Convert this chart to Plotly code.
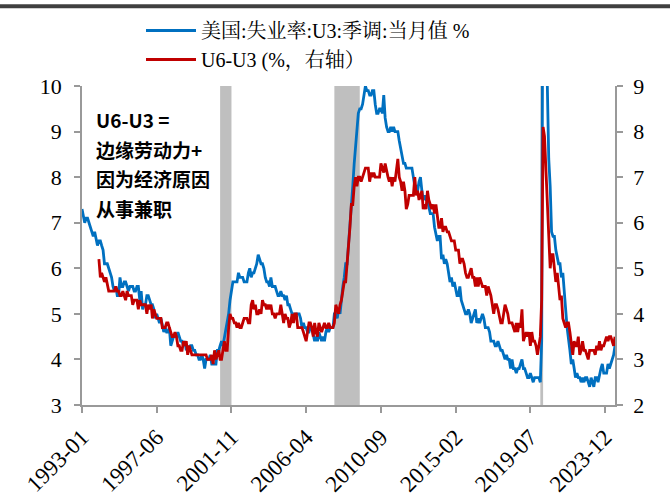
import pandas as pd
import plotly.graph_objects as go

# U3 unemployment rate, monthly, 1993-01 .. 2024-07 (left axis)
u3 = [
    7.3, 7.1, 7.0, 7.1, 7.1, 7.0, 6.9, 6.8, 6.7, 6.8, 6.6, 6.5,
    6.6, 6.6, 6.5, 6.4, 6.1, 6.1, 6.1, 6.0, 5.9, 5.8, 5.6, 5.5,
    5.6, 5.4, 5.4, 5.8, 5.6, 5.6, 5.7, 5.7, 5.6, 5.5, 5.6, 5.6,
    5.6, 5.5, 5.5, 5.6, 5.6, 5.3, 5.5, 5.1, 5.2, 5.2, 5.4, 5.4,
    5.3, 5.2, 5.2, 5.1, 4.9, 5.0, 4.9, 4.8, 4.9, 4.7, 4.6, 4.7,
    4.6, 4.6, 4.7, 4.3, 4.4, 4.5, 4.5, 4.5, 4.6, 4.5, 4.4, 4.4,
    4.3, 4.4, 4.2, 4.3, 4.2, 4.3, 4.3, 4.2, 4.2, 4.1, 4.1, 4.0,
    4.0, 4.1, 4.0, 3.8, 4.0, 4.0, 4.0, 4.1, 3.9, 3.9, 3.9, 3.9,
    4.2, 4.2, 4.3, 4.4, 4.3, 4.5, 4.6, 4.9, 5.0, 5.3, 5.5, 5.7,
    5.7, 5.7, 5.7, 5.9, 5.8, 5.8, 5.8, 5.7, 5.7, 5.7, 5.9, 6.0,
    5.8, 5.9, 5.9, 6.0, 6.1, 6.3, 6.2, 6.1, 6.1, 6.0, 5.8, 5.7,
    5.7, 5.6, 5.8, 5.6, 5.6, 5.6, 5.5, 5.4, 5.4, 5.5, 5.4, 5.4,
    5.3, 5.4, 5.2, 5.2, 5.1, 5.0, 5.0, 4.9, 5.0, 5.0, 5.0, 4.9,
    4.7, 4.8, 4.7, 4.7, 4.6, 4.6, 4.7, 4.7, 4.5, 4.4, 4.5, 4.4,
    4.6, 4.5, 4.4, 4.5, 4.4, 4.6, 4.7, 4.6, 4.7, 4.7, 4.7, 5.0,
    5.0, 4.9, 5.1, 5.0, 5.4, 5.6, 5.8, 6.1, 6.1, 6.5, 6.8, 7.3,
    7.8, 8.3, 8.7, 9.0, 9.4, 9.5, 9.5, 9.6, 9.8, 10.0, 9.9, 9.9,
    9.8, 9.8, 9.9, 9.9, 9.6, 9.4, 9.4, 9.5, 9.5, 9.4, 9.8, 9.3,
    9.1, 9.0, 9.0, 9.1, 9.0, 9.1, 9.0, 9.0, 9.0, 8.8, 8.6, 8.5,
    8.3, 8.3, 8.2, 8.2, 8.2, 8.2, 8.2, 8.0, 7.8, 7.8, 7.7, 7.9,
    8.0, 7.7, 7.5, 7.6, 7.5, 7.5, 7.3, 7.2, 7.2, 7.2, 6.9, 6.7,
    6.6, 6.7, 6.7, 6.2, 6.3, 6.1, 6.2, 6.1, 5.9, 5.7, 5.8, 5.6,
    5.7, 5.5, 5.4, 5.4, 5.6, 5.3, 5.2, 5.1, 5.0, 5.0, 5.1, 5.0,
    4.8, 4.9, 5.0, 5.1, 4.8, 4.9, 4.8, 4.9, 5.0, 4.9, 4.7, 4.7,
    4.7, 4.6, 4.4, 4.4, 4.4, 4.3, 4.3, 4.4, 4.3, 4.2, 4.2, 4.1,
    4.0, 4.1, 4.0, 4.0, 3.8, 4.0, 3.8, 3.8, 3.7, 3.8, 3.8, 3.9,
    4.0, 3.8, 3.8, 3.7, 3.6, 3.6, 3.7, 3.6, 3.5, 3.6, 3.6, 3.6,
    3.6, 3.5, 4.4, 14.8, 13.2, 11.0, 10.2, 8.4, 7.8, 6.8, 6.7, 6.7,
    6.4, 6.2, 6.1, 6.1, 5.8, 5.9, 5.4, 5.1, 4.7, 4.5, 4.2, 3.9,
    4.0, 3.8, 3.6, 3.7, 3.6, 3.6, 3.5, 3.6, 3.5, 3.6, 3.6, 3.5,
    3.4, 3.6, 3.5, 3.4, 3.6, 3.6, 3.5, 3.7, 3.8, 3.9, 3.7, 3.7,
    3.7, 3.9, 3.8, 3.9, 4.0, 4.1, 4.3,
]

# U6 - U3 spread, monthly, 1994-01 .. 2024-07 (right axis)
u6_u3 = [
    5.2, 4.8, 4.9, 4.8, 4.7, 4.8, 4.6, 4.5, 4.5, 4.5, 4.5, 4.5,
    4.6, 4.5, 4.5, 4.4, 4.4, 4.5, 4.4, 4.3, 4.5, 4.4, 4.4, 4.4,
    4.2, 4.3, 4.3, 4.3, 4.1, 4.3, 4.2, 4.2, 4.2, 4.2, 4.0, 4.2,
    4.1, 4.2, 3.9, 4.1, 4.0, 3.9, 3.9, 3.9, 3.9, 3.7, 3.7, 3.7,
    3.8, 3.8, 3.7, 3.6, 3.5, 3.5, 3.6, 3.5, 3.3, 3.3, 3.2, 3.2,
    3.4, 3.3, 3.4, 3.1, 3.3, 3.2, 3.1, 3.1, 3.1, 3.1, 3.1, 3.1,
    3.1, 3.1, 3.1, 3.1, 3.1, 3.0, 3.0, 3.0, 3.1, 2.9, 3.2, 3.0,
    3.1, 3.2, 3.0, 3.0, 3.2, 3.4, 3.2, 3.2, 3.7, 4.0, 3.9, 3.9,
    3.8, 3.8, 3.7, 3.8, 3.7, 3.7, 3.8, 3.9, 3.9, 3.9, 3.8, 3.8,
    4.2, 4.3, 4.1, 4.2, 4.0, 4.0, 4.1, 4.0, 4.3, 4.2, 4.2, 4.1,
    4.2, 4.1, 4.2, 4.0, 4.0, 3.9, 4.0, 4.0, 4.0, 4.2, 4.0, 3.8,
    4.0, 3.9, 3.9, 3.7, 3.8, 4.0, 3.8, 4.0, 4.0, 3.7, 3.7, 3.7,
    3.7, 3.6, 3.5, 3.4, 3.6, 3.8, 3.8, 3.7, 3.5, 3.8, 3.6, 3.5,
    3.8, 3.7, 3.6, 3.7, 3.8, 3.7, 3.7, 3.8, 3.7, 3.7, 3.7, 3.8,
    4.2, 4.1, 4.0, 4.2, 4.3, 4.5, 4.7, 4.7, 5.1, 5.4, 5.9, 6.4,
    6.4, 6.8, 7.0, 6.8, 7.0, 7.0, 6.9, 7.0, 7.1, 7.2, 7.2, 7.2,
    6.9, 7.1, 7.0, 7.1, 7.0, 7.0, 7.0, 7.0, 7.3, 7.2, 7.1, 7.3,
    7.1, 7.0, 6.9, 7.0, 6.8, 7.0, 6.9, 7.1, 7.4, 7.0, 6.9, 6.7,
    6.9, 6.7, 6.3, 6.4, 6.6, 6.6, 6.6, 6.6, 7.0, 6.6, 6.7, 6.5,
    6.6, 6.7, 6.3, 6.4, 6.3, 6.7, 6.5, 6.4, 6.3, 6.4, 6.2, 6.4,
    6.1, 5.9, 5.9, 6.1, 5.8, 5.9, 5.9, 5.8, 5.8, 5.7, 5.6, 5.6,
    5.6, 5.4, 5.4, 5.4, 5.1, 5.2, 5.2, 5.1, 4.9, 4.8, 4.8, 4.9,
    5.0, 4.8, 4.8, 4.6, 4.8, 4.6, 4.8, 4.7, 4.6, 4.6, 4.6, 4.4,
    4.6, 4.5, 4.4, 4.2, 4.0, 4.2, 4.2, 4.1, 3.9, 3.8, 3.8, 4.0,
    4.2, 4.1, 4.0, 3.8, 3.8, 3.8, 3.7, 3.6, 3.8, 3.6, 3.8, 3.7,
    4.1, 3.4, 3.5, 3.6, 3.5, 3.6, 3.3, 3.6, 3.4, 3.4, 3.3, 3.1,
    3.3, 3.5, 4.3, 8.1, 7.9, 7.2, 6.3, 5.8, 5.0, 5.3, 5.3, 5.0,
    4.7, 4.9, 4.6, 4.3, 4.4, 3.9, 3.8, 3.7, 3.8, 3.8, 3.6, 3.4,
    3.1, 3.4, 3.3, 3.3, 3.5, 3.1, 3.2, 3.4, 3.2, 3.2, 3.1, 3.0,
    3.2, 3.2, 3.2, 3.2, 3.1, 3.3, 3.2, 3.4, 3.2, 3.3, 3.3, 3.4,
    3.5, 3.4, 3.5, 3.5, 3.4, 3.3, 3.5,
]

tick_labels = ["1993-01", "1997-06", "2001-11", "2006-04",
               "2010-09", "2015-02", "2019-07", "2023-12"]

recessions = [("2001-03", "2001-11"), ("2007-12", "2009-06"), ("2020-02", "2020-04")]

names = ["美国:失业率:U3:季调:当月值 %", "U6-U3 (%，右轴）"]
note_lines = ["U6-U3 =", "边缘劳动力+", "因为经济原因", "从事兼职"]

dates_u3 = pd.date_range("1993-01-01", periods=len(u3), freq="MS")
dates_sp = pd.date_range("1994-01-01", periods=len(u6_u3), freq="MS")

SERIF = "Times New Roman, Liberation Serif, Noto Serif CJK SC, Noto Sans CJK SC, serif"
BLUE = "#0070C0"
RED = "#C00000"
AX = "#999999"

fig = go.Figure()
fig.add_trace(go.Scatter(x=dates_u3, y=u3, mode="lines", name=names[0],
                         line=dict(color=BLUE, width=2.8), yaxis="y"))
fig.add_trace(go.Scatter(x=dates_sp, y=u6_u3, mode="lines", name=names[1],
                         line=dict(color=RED, width=2.8), yaxis="y2"))

shapes = []
for a, b in recessions:
    shapes.append(dict(type="rect", xref="x", yref="paper", x0=a + "-01", x1=b + "-01",
                       y0=0, y1=1, fillcolor="#BFBFBF", line=dict(width=0), layer="below"))
# dark header rule at very top
shapes.append(dict(type="rect", xref="paper", yref="paper",
                   x0=-82 / 533, x1=588 / 533, y0=1 + (85 - 7) / 320, y1=1 + (85 - 3) / 320,
                   fillcolor="#404040", line=dict(width=0)))

annotations = []
for i, t in enumerate(note_lines):
    annotations.append(dict(xref="paper", yref="paper", x=(94 - 82) / 533,
                            y=1 - (119 + 29.5 * i - 85) / 320, text="<b>" + t + "</b>",
                            showarrow=False, xanchor="left", yanchor="middle",
                            font=dict(family="Noto Sans CJK SC, DejaVu Sans Mono", size=19, color="black")))

fig.update_layout(
    width=670, height=499,
    margin=dict(l=82, r=55, t=85, b=94),
    paper_bgcolor="white", plot_bgcolor="white",
    font=dict(family=SERIF, color="black", size=20),
    showlegend=True,
    legend=dict(x=(141 - 82) / 533, y=1 + (85 - 11) / 320, xanchor="left", yanchor="top",
                orientation="v", font=dict(family=SERIF, size=20), bgcolor="rgba(0,0,0,0)",
                itemwidth=50, tracegroupgap=0),
    xaxis=dict(range=["1993-01-01", "2024-07-01"], tickvals=[t + "-01" for t in tick_labels],
               ticktext=tick_labels, tickangle=-45, showgrid=False, zeroline=False,
               showline=True, linecolor=AX, linewidth=1.5, ticks="outside", tickcolor=AX,
               ticklen=6, tickwidth=1.5, tickfont=dict(size=23, family=SERIF),
               ticklabelstandoff=2, automargin=False),
    yaxis=dict(range=[3, 10], dtick=1, showgrid=False, zeroline=False, showline=True,
               linecolor=AX, linewidth=1.5, ticks="outside", tickcolor=AX, ticklen=6,
               tickwidth=1.5, tickfont=dict(size=22, family=SERIF), ticklabelstandoff=8,
               automargin=False),
    yaxis2=dict(range=[2, 9], dtick=1, overlaying="y", side="right", showgrid=False,
                zeroline=False, showline=True, linecolor=AX, linewidth=1.5, ticks="outside",
                tickcolor=AX, ticklen=6, tickwidth=1.5, tickfont=dict(size=22, family=SERIF),
                ticklabelstandoff=6, automargin=False),
    shapes=shapes,
    annotations=annotations,
)

fig.write_html("out.html", config={"displayModeBar": False},
               post_script="document.body.style.margin='0px';document.body.style.padding='0px';")
